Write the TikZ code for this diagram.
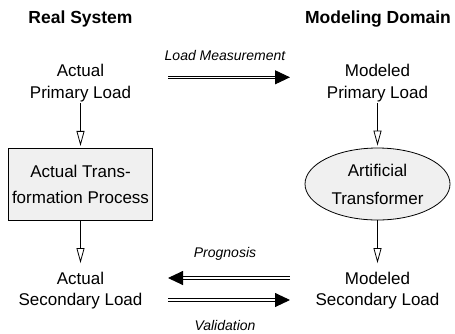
\documentclass[tikz,border=0pt]{standalone}
\usepackage{fontspec}
\setmainfont{Liberation Sans}
\usetikzlibrary{arrows.meta,shapes.geometric}
\begin{document}
\begin{tikzpicture}[x=1pt,y=-1pt,
  txt/.style={align=center,inner sep=1.5pt,font=\fontsize{17}{21.6}\selectfont},
  head/.style={anchor=base,inner sep=0pt,font=\bfseries\fontsize{17.5}{21}\selectfont},
  lbl/.style={anchor=base,inner sep=0pt,font=\itshape\fontsize{14}{17}\selectfont},
  procbox/.style={draw,line width=0.8pt,fill=gray!12,minimum width=144.4pt,minimum height=71.7pt,inner sep=0pt,align=center,font=\fontsize{17}{26.5}\selectfont},
  modbox/.style={ellipse,draw,line width=0.8pt,fill=gray!12,minimum width=145pt,minimum height=72pt,inner sep=0pt,align=center,font=\fontsize{17}{28}\selectfont},
  flow/.style={line width=0.8pt,-{Triangle[open,length=15pt,width=8pt,fill=white]}},
  dbl/.style={double,double distance=1.6pt,line width=0.9pt,-{Triangle[length=15pt,width=14pt]}}
]
\useasboundingbox (0,0) rectangle (455,333);
\node[head] (hreal) at (80.5,23.3) {Real System};
\node[head] (hmod) at (378,23.3) {Modeling Domain};
\node[txt] (apl) at (80.5,83) {Actual\\Primary Load};
\node[txt] (mpl) at (377.5,83) {Modeled\\Primary Load};
\node[procbox] (atp) at (80.5,184.2) {Actual Trans-\\formation Process};
\node[modbox] (art) at (377.5,184) {Artificial\\Transformer};
\node[txt] (asl) at (80.5,290.5) {Actual\\Secondary Load};
\node[txt] (msl) at (377.5,290.5) {Modeled\\Secondary Load};
\draw[flow,shorten >=2pt] (apl) -- (atp);
\draw[flow,shorten >=2pt] (mpl) -- (art);
\draw[flow,shorten >=7pt] (atp) -- (asl);
\draw[flow,shorten >=7pt] (art) -- (msl);
\coordinate (lmA) at (168,77.3);
\coordinate (lmB) at (290,77.3);
\coordinate (prA) at (290,278);
\coordinate (prB) at (168,278);
\coordinate (vaA) at (168,300);
\coordinate (vaB) at (290,300);
\draw[dbl] (lmA) -- (lmB);
\draw[dbl] (prA) -- (prB);
\draw[dbl] (vaA) -- (vaB);
\node[lbl] (llm) at (225,60) {Load Measurement};
\node[lbl] (lpr) at (225,257.3) {Prognosis};
\node[lbl] (lva) at (225,330) {Validation};
\end{tikzpicture}
\end{document}
